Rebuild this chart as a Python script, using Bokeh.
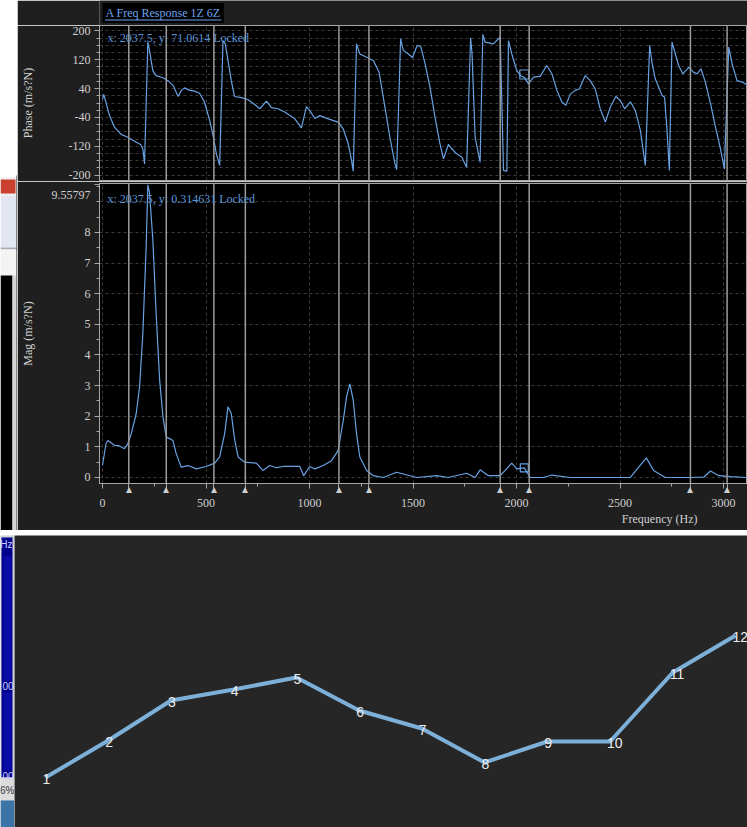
from bokeh.plotting import figure
from bokeh.layouts import column, row
from bokeh.models import Range1d, FixedTicker, Span, Label, Grid, Title, CustomJSTickFormatter
from bokeh.core.properties import value
from bokeh.embed import file_html
from bokeh.resources import INLINE

# ---------------- data ----------------
title_text = "A Freq Response 1Z 6Z"

# phase trace (Hz, degrees)
phase_hz = [0, 6, 34, 58, 90, 122, 155, 184, 195, 203, 219, 227, 243, 259, 292, 316, 341,
            365, 381, 397, 421, 445, 469, 493, 518, 534, 550, 566, 582, 593, 606, 622, 638,
            671, 703, 735, 760, 792, 816, 848, 880, 929, 961, 985, 1001, 1026, 1050, 1090,
            1138, 1163, 1187, 1203, 1211, 1227, 1243, 1276, 1308, 1336, 1364, 1388, 1413,
            1421, 1440, 1453, 1477, 1498, 1520, 1537, 1558, 1582, 1606, 1630, 1647, 1671,
            1687, 1711, 1735, 1759, 1778, 1785, 1800, 1824, 1837, 1848, 1888, 1921, 1937,
            1953, 1961, 1977, 2001, 2020, 2037.5, 2058, 2082, 2114, 2146, 2171, 2195, 2219,
            2238, 2259, 2283, 2303, 2332, 2356, 2380, 2404, 2429, 2453, 2480, 2501, 2522,
            2550, 2574, 2598, 2622, 2643, 2654, 2670, 2703, 2715, 2727, 2738, 2751, 2767,
            2783, 2803, 2832, 2856, 2872, 2891, 2912, 2937, 2961, 2985, 3004, 3025, 3041,
            3065, 3090, 3116]
phase_deg = [10, 24, -35, -67, -87, -95, -106, -115, -127, -169, 169, 146, 90, 76, 70, 62, 49,
             18, 35, 42, 35, 33, 27, 2, -49, -90, -141, -173, 173, 164, 118, 62, 18,
             15, 9, -4, -16, 5, -13, -16, -25, -44, -69, -10, -21, -43, -35, -44,
             -53, -72, -113, -159, -189, 164, 136, 127, 118, 85, -11, -95, -169,
             -185, 178, 146, 136, 126, 160, 157, 109, 44, -39, -113, -155, -115,
             -127, -141, -150, -178, 181, 137, -95, -164, 190, 169, 164, 183, -187,
             -189, 173, 136, 90, 75, 71.0614, 53, 72, 74, 104, 81, 35, 3,
             -6, 24, 35, 39, 76, 62, 39, -16, -53, -11, 18, 7, -16,
             3, -21, -76, -173, 160, 113, 67, 21, 16, -76, -187, 169, 136,
             104, 81, 99, 85, 81, 95, 58, -2, -67, -127, -183, 155, 109,
             62, 58, 49]

# magnitude trace (Hz, m/s/N)
mag_hz = [0, 17, 26, 58, 82, 106, 122, 139, 163, 179, 195, 211, 219, 227, 243, 259, 276, 292,
          308, 324, 340, 356, 380, 413, 453, 501, 542, 566, 590, 606, 622, 639, 655, 687,
          743, 775, 808, 840, 872, 953, 972, 1001, 1026, 1066, 1106, 1138, 1163, 1179,
          1195, 1211, 1227, 1243, 1276, 1308, 1356, 1421, 1517, 1614, 1670, 1759, 1800,
          1824, 1864, 1921, 1977, 2001, 2037.5, 2066, 2130, 2171, 2259, 2388, 2485, 2550,
          2590, 2627, 2662, 2719, 2775, 2840, 2904, 2937, 2977, 3033, 3114]
mag_val = [0.4, 1.11, 1.21, 1.05, 1.03, 0.94, 1.1, 1.43, 2.09, 2.96, 4.72, 7.56, 9.55797, 9.32,
           7.78, 5.37, 3.18, 1.98, 1.32, 1.27, 1.21, 0.78, 0.34, 0.39, 0.28, 0.36, 0.47, 0.67,
           1.43, 2.31, 2.09, 1.21, 0.67, 0.5, 0.47, 0.23, 0.39, 0.32, 0.36, 0.36, 0.06, 0.36,
           0.28, 0.39, 0.55, 0.88, 1.87, 2.64, 3.06, 2.53, 1.43, 0.67, 0.23, 0.06, 0.0, 0.17,
           0.0, 0.06, 0.0, 0.14, 0.0, 0.25, 0.06, 0.06, 0.47, 0.28, 0.314631, 0.0, 0.0, 0.08,
           0.0, 0.0, 0.0, 0.0, 0.34, 0.64, 0.23, 0.0, 0.0, 0.0, 0.01, 0.21, 0.06, 0.03, 0.0]

cursor_hz = 2037.5
cursor_phase = 71.0614
cursor_mag = 0.314631
mag_top = 9.55797

marker_hz = [127, 308, 538, 690, 1142, 1287, 1921, 2061, 2840, 3017]

phase_ticks = [200, 120, 40, -40, -120, -200]
mag_ticks = [0, 1, 2, 3, 4, 5, 6, 7, 8, mag_top]
freq_ticks = [0, 500, 1000, 1500, 2000, 2500, 3000]

# point sequence in the lower panel
point_idx = [1, 2, 3, 4, 5, 6, 7, 8, 9, 10, 11, 12]
point_val = [5.0, 8.7, 12.7, 13.8, 15.0, 11.7, 9.9, 6.5, 8.6, 8.6, 15.5, 19.2]
point_txt = [str(i) for i in point_idx]

# ---------------- styles ----------------
SERIF = "Liberation Serif"
SANS = "Liberation Sans"
BORDER = "#1f1f1f"
FRAME = "#000000"
AXIS_GRAY = "#a6a6a6"
TEXT_GRAY = "#cfcfcf"
GRID = "#3c3c3c"
TRACE = "#68a2e2"
READOUT = "#5e94d6"
MARKER = "#9c9c9c"
LEFT = 79

x_rng = Range1d(-14.5, 3115.6)


def base_fig(**kw):
    opts = dict(toolbar_location=None, output_backend="svg", min_border_right=0)
    opts.update(kw)
    return figure(**opts)


def style_axis(ax):
    ax.axis_line_color = AXIS_GRAY
    ax.major_tick_line_color = AXIS_GRAY
    ax.minor_tick_line_color = AXIS_GRAY
    ax.major_tick_out = 5
    ax.major_tick_in = 0
    ax.minor_tick_out = 3
    ax.minor_tick_in = 0
    ax.major_label_text_font = SERIF
    ax.major_label_text_font_size = "12px"
    ax.major_label_text_color = TEXT_GRAY
    ax.major_label_text_line_height = 1.0
    ax.axis_label_text_font = SERIF
    ax.axis_label_text_font_size = "12px"
    ax.axis_label_text_font_style = "normal"
    ax.axis_label_text_color = TEXT_GRAY


# ---------------- header strip with title ----------------
header = base_fig(width=730, height=25, x_range=x_rng, y_range=Range1d(0, 25),
                  x_axis_type=None, y_axis_type=None,
                  min_border_left=LEFT, min_border_top=0, min_border_bottom=0,
                  background_fill_color=BORDER, border_fill_color=BORDER,
                  outline_line_color=None)
header.add_layout(Label(x=0, y=12.5, text=title_text, text_font=SERIF,
                        text_font_size="12px", text_color="#6ea3ec",
                        text_baseline="middle", background_fill_color="black",
                        padding=3))
header.segment(x0=[12], x1=[575], y0=[5.5], y1=[5.5], line_color="#6ea3ec",
               line_width=1, level="overlay")

# ---------------- phase panel ----------------
phase = base_fig(width=730, height=156, x_range=x_rng, y_range=Range1d(-215, 215),
                 x_axis_type=None, min_border_left=LEFT, min_border_top=0,
                 min_border_bottom=1, background_fill_color=FRAME,
                 border_fill_color=BORDER, outline_line_color=AXIS_GRAY)
pa = phase.yaxis[0]
pa.axis_label = "Phase (m/s?N)"
pa.ticker = FixedTicker(ticks=phase_ticks, minor_ticks=list(range(-200, 201, 20)))
pa.formatter = CustomJSTickFormatter(code="return tick.toFixed(0);")
style_axis(pa)
pa.major_label_standoff = 4
pa.axis_label_standoff = 31
phase.ygrid.ticker = FixedTicker(ticks=list(range(-200, 201, 20)))
phase.ygrid.grid_line_color = GRID
phase.ygrid.grid_line_dash = "3 3"
phase.add_layout(Grid(dimension=0, ticker=FixedTicker(ticks=freq_ticks),
                      grid_line_color=GRID, grid_line_dash="3 3"))
for f in marker_hz:
    phase.add_layout(Span(location=f, dimension="height", line_color=MARKER, line_width=1.5))
phase.line(phase_hz, phase_deg, line_color=TRACE, line_width=1.2)
phase.scatter([cursor_hz], [cursor_phase + 8], marker="square", size=9,
              fill_color=None, line_color=TRACE, line_width=1.2)
phase.add_layout(Label(x=24, y=179, text=f"x: {cursor_hz}, y: {cursor_phase} Locked",
                       text_font=SERIF, text_font_size="12px", text_color=READOUT,
                       text_baseline="middle"))

# ---------------- magnitude panel ----------------
mag = base_fig(width=730, height=349, x_range=x_rng, y_range=Range1d(-0.196, 9.6),
               min_border_left=LEFT, min_border_top=2, min_border_bottom=47,
               background_fill_color=FRAME, border_fill_color=BORDER,
               outline_line_color=AXIS_GRAY)
ma = mag.yaxis[0]
ma.axis_label = "Mag (m/s?N)"
ma.ticker = FixedTicker(ticks=mag_ticks, minor_ticks=[i / 2 for i in range(0, 20)])
# the top value is written on a second line so it sits just below its tick
ma.formatter = CustomJSTickFormatter(
    args=dict(top=mag_top),
    code="return tick === top ? '\\n' + String(top) : tick.toFixed(0);")
style_axis(ma)
ma.major_label_text_line_height = 0.45
ma.major_label_standoff = 4
ma.axis_label_standoff = 14

# frequency axis: numbers on the second line, marker triangles on the first
xa = mag.xaxis[0]
xa.ticker = FixedTicker(ticks=freq_ticks + marker_hz, minor_ticks=list(range(0, 3001, 250)))
xa.formatter = CustomJSTickFormatter(
    args=dict(marks=marker_hz),
    code="return marks.includes(tick) ? '\\u25B4' : '\\n' + tick.toFixed(0);")
style_axis(xa)
xa.major_label_standoff = -7
mag.add_layout(Title(text="Frequency (Hz)", align="right", offset=50, standoff=-6,
                     text_font=SERIF, text_font_size="12px", text_font_style="normal",
                     text_color=TEXT_GRAY), "below")

mag.ygrid.ticker = FixedTicker(ticks=list(range(0, 10)))
mag.xgrid.ticker = FixedTicker(ticks=freq_ticks)
for g in (mag.xgrid[0], mag.ygrid[0]):
    g.grid_line_color = GRID
    g.grid_line_dash = "3 3"
for f in marker_hz:
    mag.add_layout(Span(location=f, dimension="height", line_color=MARKER, line_width=1.5))
mag.line(mag_hz, mag_val, line_color=TRACE, line_width=1.2)
mag.scatter([cursor_hz], [cursor_mag], marker="square", size=8,
            fill_color=None, line_color=TRACE, line_width=1.2)
mag.add_layout(Label(x=24, y=9.08, text=f"x: {cursor_hz}, y: {cursor_mag} Locked",
                     text_font=SERIF, text_font_size="12px", text_color=READOUT,
                     text_baseline="middle"))

# ---------------- window fragments at the left edge ----------------
strip1_l = [0, 0, 0, 0, 0, 0, 0, 12, 16]
strip1_r = [17, 17, 15, 17, 17, 17, 12, 16, 17]
strip1_t = [0, 177, 179, 195, 247, 249, 275, 275, 175]
strip1_b = [177, 195, 193, 247, 249, 275, 530, 530, 530]
strip1_c = ["#ffffff", "#eeeeee", "#c9402f", "#e1e6f1", "#a5aab3", "#f3f3f3",
            "#000000", "#d6d6d6", BORDER]
strip1 = base_fig(width=17, height=530, x_range=Range1d(0, 17), y_range=Range1d(530, 0),
                  x_axis_type=None, y_axis_type=None, min_border=0,
                  background_fill_color="#ffffff", border_fill_color="#ffffff",
                  outline_line_color=None)
strip1.quad(left=strip1_l, right=strip1_r, top=strip1_t, bottom=strip1_b,
            fill_color=strip1_c, line_color=None)

strip2_l = [0, 1, 3, 3, 0, 0]
strip2_r = [14, 12, 11, 11, 14, 14]
strip2_t = [535, 537, 555, 692, 777, 800]
strip2_b = [827, 777, 680, 770, 800, 827]
strip2_c = ["#cfd3da", "#00008c", "#0a0aa6", "#0a0aa6", "#dcdcdc", "#3d74a8"]
strip2 = base_fig(width=14, height=292, x_range=Range1d(0, 14), y_range=Range1d(827, 535),
                  x_axis_type=None, y_axis_type=None, min_border=0,
                  background_fill_color="#cfd3da", border_fill_color="#cfd3da",
                  outline_line_color=None)
strip2.quad(left=strip2_l, right=strip2_r, top=strip2_t, bottom=strip2_b,
            fill_color=strip2_c, line_color=None)
strip2.text(x=[12, 13, 13, 14], y=[544, 685, 775, 790], text=["Hz", "00", "00", "6%"],
            text_font=value(SANS), text_font_size="10px",
            text_color=["#c8d0ff", "#c8d0ff", "#c8d0ff", "#333333"],
            text_align="right", text_baseline="middle")

sep = base_fig(width=747, height=5, x_axis_type=None, y_axis_type=None, min_border=0,
               background_fill_color="#e2e4e8", border_fill_color="#e2e4e8",
               outline_line_color=None)

# ---------------- lower panel: numbered sequence ----------------
bottom = base_fig(width=733, height=292, x_range=Range1d(0.506, 12.191),
                  y_range=Range1d(0, 29.2), x_axis_type=None, y_axis_type=None,
                  min_border=0, background_fill_color="#262626",
                  border_fill_color="#262626", outline_line_color=None)
bottom.line(point_idx, point_val, line_color="#7db0d9", line_width=4)
bottom.text(point_idx, point_val, text=point_txt, text_font=value(SANS),
            text_font_size="14px", text_color="#ececec", text_align="left",
            text_baseline="alphabetic", x_offset=-3, y_offset=1)

page = column(row(strip1, column(header, phase, mag)), sep, row(strip2, bottom))

open("out.html", "w").write(file_html(page, INLINE))
